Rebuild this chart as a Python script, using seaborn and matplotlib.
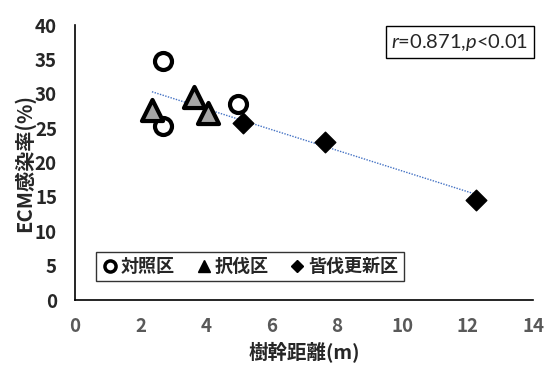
import numpy as np
import pandas as pd
import matplotlib
matplotlib.use("Agg")
import matplotlib.pyplot as plt
import seaborn as sns
from matplotlib.lines import Line2D

# データ
groups = ["対照区", "択伐区", "皆伐更新区"]
x_control = [2.69, 2.69, 4.98]
y_control = [34.8, 25.3, 28.5]
x_selection = [2.35, 3.63, 4.06]
y_selection = [27.6, 29.5, 27.2]
x_clearcut = [5.13, 7.63, 12.24]
y_clearcut = [25.7, 23.0, 14.5]
x_ticks = [0, 2, 4, 6, 8, 10, 12, 14]
y_ticks = [0, 5, 10, 15, 20, 25, 30, 35, 40]

df = pd.DataFrame({
    "x": x_control + x_selection + x_clearcut,
    "y": y_control + y_selection + y_clearcut,
    "group": [groups[0]] * 3 + [groups[1]] * 3 + [groups[2]] * 3,
})

sns.set_style("white")
plt.rcParams["font.family"] = ["Noto Sans CJK JP", "DejaVu Sans"]
plt.rcParams["mathtext.fontset"] = "custom"
plt.rcParams["mathtext.rm"] = "Lato"
plt.rcParams["mathtext.it"] = "Lato:italic"

fig = plt.figure(figsize=(5.44, 3.65), dpi=100)
ax = fig.add_axes([0.138, 0.178, 0.842, 0.7535])

# 回帰直線（全データ）
sns.regplot(data=df, x="x", y="y", ci=None, scatter=False, ax=ax,
            line_kws={"color": "#4472c4", "lw": 1.0, "ls": (0, (1, 1))})

styles = {
    "対照区": dict(marker="o", s=150, facecolor="white", edgecolor="black", linewidth=3),
    "択伐区": dict(marker="^", s=230, facecolor="#a6a6a6", edgecolor="black", linewidth=3),
    "皆伐更新区": dict(marker="D", s=110, facecolor="black", edgecolor="black", linewidth=1),
}
for g in groups:
    sub = df[df["group"] == g]
    sns.scatterplot(data=sub, x="x", y="y", ax=ax, zorder=3, legend=False, **styles[g])

ax.set_xlim(0, 14)
ax.set_ylim(0, 40)
ax.set_xticks(x_ticks)
ax.set_yticks(y_ticks)
ax.tick_params(axis="x", length=0, labelsize=13.5, labelcolor="#595959", pad=12)
ax.tick_params(axis="y", length=0, labelsize=13.5, labelcolor="#262626", pad=13)
for lab in ax.get_xticklabels() + ax.get_yticklabels():
    lab.set_fontweight("bold")
ax.set_xlabel("樹幹距離(m)", fontsize=14, fontweight="bold", labelpad=4)
ax.set_ylabel("ECM感染率(%)", fontsize=14.5, fontweight="bold", labelpad=0)
sns.despine(ax=ax)
for sp in ["left", "bottom"]:
    ax.spines[sp].set_color("black")
    ax.spines[sp].set_linewidth(1.2)

handles = [
    Line2D([], [], marker="o", ls="", markersize=8, markerfacecolor="white",
           markeredgecolor="black", markeredgewidth=2.5),
    Line2D([], [], marker="^", ls="", markersize=9, markerfacecolor="black",
           markeredgecolor="black"),
    Line2D([], [], marker="D", ls="", markersize=6, markerfacecolor="black",
           markeredgecolor="black"),
]
leg = ax.legend(handles, groups, loc="lower left", bbox_to_anchor=(0.025, 0.035), ncol=3,
                frameon=True, fancybox=False, edgecolor="black", handletextpad=0.1,
                columnspacing=1.1, handlelength=1.0, borderpad=0.3,
                prop={"size": 13, "weight": "bold"})
leg.get_frame().set_linewidth(1.0)

ax.text(0.99, 0.938, "$r$=0.871,$p$<0.01", transform=ax.transAxes, ha="right", va="center",
        fontsize=14.5, family="Lato",
        bbox=dict(boxstyle="square,pad=0.28", facecolor="white", edgecolor="black", lw=1.0))

fig.savefig("out.png", dpi=100)
